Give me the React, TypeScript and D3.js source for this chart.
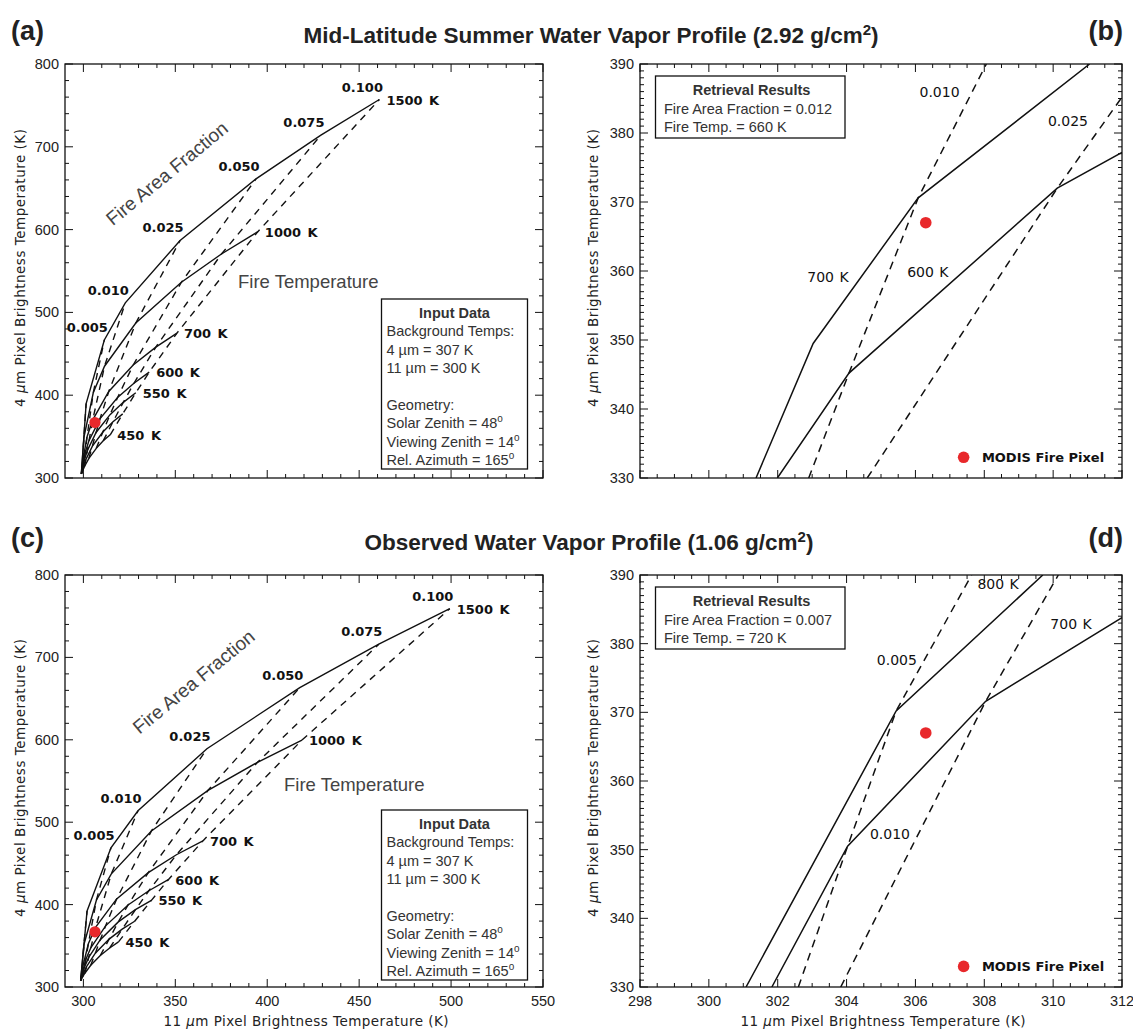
import React from "react";
import * as d3 from "d3";

type Pt = [number, number];

// Lookup grid: fire-area fractions (dashed curves) and fire temperatures (solid curves)
const FRACTIONS = [0.001, 0.005, 0.01, 0.025, 0.05, 0.075, 0.1];
const FRACTION_LABELS = ["", "0.005", "0.010", "0.025", "0.050", "0.075", "0.100"];
const FIRE_TEMPS = [450, 500, 550, 600, 700, 1000, 1500];
const FIRE_TEMP_LABELS = ["450 K", "", "550 K", "600 K", "700 K", "1000 K", "1500 K"];

// Pixel brightness temperatures [11 µm, 4 µm] in K. Rows follow FIRE_TEMPS,
// columns follow FRACTIONS. Mid-latitude summer profile (2.92 g/cm2).
const MLS_BACKGROUND: Pt = [298.9, 305.0];
const MLS_GRID: Pt[][] = [
  [[299.1, 306.0], [299.8, 309.8], [300.6, 313.9], [303.0, 323.8], [307.0, 335.8], [310.8, 344.9], [314.6, 352.2]],
  [[299.2, 307.3], [300.1, 315.0], [301.4, 322.5], [304.9, 338.5], [310.6, 355.6], [316.1, 367.9], [321.4, 377.4]],
  [[299.3, 309.3], [300.6, 322.1], [302.2, 333.4], [306.9, 355.0], [314.5, 376.5], [321.7, 391.4], [328.5, 402.9]],
  [[299.4, 312.0], [301.0, 330.8], [303.1, 345.5], [309.1, 371.8], [318.6, 397.2], [327.5, 414.4], [335.8, 427.8]],
  [[299.6, 319.8], [302.0, 349.9], [305.1, 370.3], [313.8, 404.5], [327.1, 436.5], [339.4, 458.1], [350.9, 475.0]],
  [[300.3, 349.2], [305.4, 403.2], [311.5, 435.0], [328.5, 487.1], [353.3, 536.4], [375.1, 570.5], [394.9, 597.5]],
  [[301.5, 389.9], [311.4, 466.7], [322.8, 511.5], [352.6, 586.9], [393.9, 661.2], [429.2, 714.1], [461.0, 757.1]],
];

// Observed water vapor profile (1.06 g/cm2)
const OBS_BACKGROUND: Pt = [298.5, 307.5];
const OBS_GRID: Pt[][] = [
  [[298.7, 308.5], [299.6, 312.2], [300.7, 316.4], [304.0, 326.3], [309.2, 338.2], [314.3, 347.4], [319.1, 354.7]],
  [[298.8, 309.8], [300.1, 317.5], [301.8, 325.0], [306.5, 341.0], [314.0, 358.1], [321.1, 370.3], [327.9, 379.8]],
  [[298.9, 311.8], [300.7, 324.6], [302.9, 335.9], [309.2, 357.4], [319.0, 379.0], [328.3, 393.8], [337.0, 405.2]],
  [[299.1, 314.5], [301.3, 333.3], [304.1, 347.9], [312.1, 374.2], [324.3, 399.6], [335.6, 416.8], [346.2, 430.2]],
  [[299.4, 322.3], [302.7, 352.4], [306.7, 372.7], [318.1, 406.9], [335.3, 438.8], [350.6, 460.5], [365.0, 477.3]],
  [[300.3, 351.6], [307.1, 405.6], [315.2, 437.3], [337.0, 489.4], [367.8, 538.7], [394.7, 572.7], [418.9, 599.7]],
  [[302.0, 392.3], [315.0, 469.0], [329.7, 513.8], [367.2, 589.1], [417.7, 663.3], [460.7, 716.1], [499.3, 759.1]],
];

// MODIS fire pixel [11 µm, 4 µm]
const MODIS_PIXEL: Pt = [306.3, 367.0];

// Close-up curves around the MODIS pixel
const MLS_CLOSE_SOLID: { name: string; points: Pt[] }[] = [
  { name: "700 K", points: [[301.37, 330], [303.03, 349.5], [306.08, 370.6], [311.06, 390]] },
  { name: "600 K", points: [[301.99, 330], [304.07, 345.2], [310.12, 372.0], [312.0, 377.2]] },
];
const MLS_CLOSE_DASHED: { name: string; points: Pt[] }[] = [
  { name: "0.010", points: [[302.9, 330], [304.07, 345.2], [306.08, 370.6], [308.06, 390]] },
  { name: "0.025", points: [[304.6, 330], [310.12, 372.0], [312.0, 385.2]] },
];
const OBS_CLOSE_SOLID: { name: string; points: Pt[] }[] = [
  { name: "800 K", points: [[301.08, 330], [305.44, 370.2], [309.7, 390]] },
  { name: "700 K", points: [[301.83, 330], [304.03, 350.5], [308.04, 371.6], [312.0, 383.8]] },
];
const OBS_CLOSE_DASHED: { name: string; points: Pt[] }[] = [
  { name: "0.005", points: [[302.6, 330], [304.03, 350.5], [305.44, 370.2], [307.63, 390]] },
  { name: "0.010", points: [[303.83, 330], [308.04, 371.6], [310.15, 390]] },
];

// Retrieval results shown in the close-up panels
const MLS_RESULT = { fraction: "0.012", temp: "660 K" };
const OBS_RESULT = { fraction: "0.007", temp: "720 K" };

// Axis ticks
const WIDE_X_TICKS = [300, 350, 400, 450, 500, 550];
const WIDE_X_MINOR = d3.range(300, 550, 10).filter((v) => v % 50 !== 0);
const WIDE_Y_TICKS = [300, 400, 500, 600, 700, 800];
const WIDE_Y_MINOR = d3.range(300, 800, 20).filter((v) => v % 100 !== 0);
const CLOSE_X_TICKS = [298, 300, 302, 304, 306, 308, 310, 312];
const CLOSE_X_MINOR = d3.range(298.5, 312, 0.5).filter((v) => v % 2 !== 0);
const CLOSE_Y_TICKS = [330, 340, 350, 360, 370, 380, 390];
const CLOSE_Y_MINOR = d3.range(331, 390, 1).filter((v) => v % 10 !== 0);

const SANS = "'Liberation Sans', Arial, Helvetica, sans-serif";
const VEC = "'DejaVu Sans', Verdana, sans-serif";
const INK = "#111";
const RED = "#e8282b";

type Scale = d3.ScaleLinear<number, number>;

function Axes(props: {
  x: Scale; y: Scale;
  xMajor: number[]; xMinor: number[]; yMajor: number[]; yMinor: number[];
  xLabels: boolean; xTitle?: boolean; yTitleX: number;
}) {
  const { x, y, xMajor, xMinor, yMajor, yMinor, xLabels, xTitle, yTitleX } = props;
  const [l, r] = x.range();
  const [b, t] = y.range();
  const MAJ = 8, MIN = 4;
  let d = "";
  xMajor.forEach((v) => { const p = x(v); d += `M${p},${b}v${-MAJ}M${p},${t}v${MAJ}`; });
  xMinor.forEach((v) => { const p = x(v); d += `M${p},${b}v${-MIN}M${p},${t}v${MIN}`; });
  yMajor.forEach((v) => { const p = y(v); d += `M${l},${p}h${MAJ}M${r},${p}h${-MAJ}`; });
  yMinor.forEach((v) => { const p = y(v); d += `M${l},${p}h${MIN}M${r},${p}h${-MIN}`; });
  const cy = (b + t) / 2 - 3;
  return (
    <g>
      <path d={d} stroke={INK} strokeWidth={1} fill="none" />
      <rect x={l} y={t} width={r - l} height={b - t} fill="none" stroke={INK} strokeWidth={1.3} />
      <g fontFamily={SANS} fontSize={14.5} fill="#222">
        {yMajor.map((v) => (
          <text key={v} x={l - 6} y={y(v) + 5} textAnchor="end">{v}</text>
        ))}
        {xLabels &&
          xMajor.map((v) => (
            <text key={v} x={x(v)} y={b + 19} textAnchor="middle">{v}</text>
          ))}
      </g>
      <text
        transform={`translate(${yTitleX},${cy}) rotate(-90)`}
        textAnchor="middle"
        fontFamily={VEC}
        fontSize={13.5}
        fill="#222"
        textLength={278}
        lengthAdjust="spacing"
      >
        4 <tspan fontStyle="italic">µ</tspan>m Pixel Brightness Temperature (K)
      </text>
      {xTitle && (
        <text
          x={(l + r) / 2 + 2}
          y={b + 39}
          textAnchor="middle"
          fontFamily={VEC}
          fontSize={13.5}
          fill="#222"
          textLength={285}
          lengthAdjust="spacing"
        >
          11 <tspan fontStyle="italic">µ</tspan>m Pixel Brightness Temperature (K)
        </text>
      )}
    </g>
  );
}

function InputBox({ left, top }: { left: number; top: number }) {
  const lines = [
    "Background Temps:",
    "4 µm = 307 K",
    "11 µm = 300 K",
    "",
    "Geometry:",
  ];
  const geo: [string, string][] = [
    ["Solar Zenith = 48", "o"],
    ["Viewing Zenith = 14", "o"],
    ["Rel. Azimuth = 165", "o"],
  ];
  const lh = 18.4;
  return (
    <g fontFamily={SANS} fontSize={14.5} fill="#333">
      <rect x={left} y={top} width={146} height={170} fill="#fff" stroke={INK} strokeWidth={1.3} />
      <text x={left + 73} y={top + 19} textAnchor="middle" fontWeight="bold">Input Data</text>
      {lines.map((s, i) => (
        <text key={i} x={left + 5} y={top + 19 + lh * (i + 1)}>{s}</text>
      ))}
      {geo.map(([s, sup], i) => (
        <text key={s} x={left + 5} y={top + 19 + lh * (i + 6)}>
          {s}
          <tspan dy={-6} fontSize={10}>{sup}</tspan>
        </text>
      ))}
    </g>
  );
}

function WidePanel(props: {
  top: number; bottom: number; grid: Pt[][]; background: Pt; xLabels: boolean;
}) {
  const { top, bottom, grid, background, xLabels } = props;
  const x = d3.scaleLinear().domain([290, 550]).range([65, 543]);
  const y = d3.scaleLinear().domain([300, 800]).range([bottom, top]);
  const line = d3.line<Pt>().x((d) => x(d[0])).y((d) => y(d[1]));
  const solid = grid.map((row) => [background, ...row]);
  const dashed = FRACTIONS.map((_, j) => grid.map((row) => row[j]));
  const hottest = grid[grid.length - 1];
  const toPx = (p: Pt) => [x(p[0]), y(p[1])];
  const fafAt = toPx(hottest[3]);
  return (
    <g>
      <g fill="none" stroke={INK} strokeWidth={1.4}>
        {solid.map((pts, i) => (
          <path key={`s${i}`} d={line(pts) || ""} />
        ))}
        {dashed.map((pts, j) => (
          <path key={`d${j}`} d={line(pts) || ""} strokeDasharray="7,6" />
        ))}
      </g>
      <g fontFamily={VEC} fontWeight="bold" fontSize={13} fill={INK}>
        {FRACTION_LABELS.map((s, j) => {
          if (!s) return null;
          const [px, py] = toPx(hottest[j]);
          return (
            <text key={s} x={px - 17} y={py - 8} textAnchor="middle">{s}</text>
          );
        })}
        {FIRE_TEMP_LABELS.map((s, i) => {
          if (!s) return null;
          const [px, py] = toPx(grid[i][grid[i].length - 1]);
          return (
            <text key={s} x={px + 7} y={py + 5} wordSpacing={2}>{s}</text>
          );
        })}
      </g>
      <text
        transform={`translate(${fafAt[0] - 9},${fafAt[1] - 62}) rotate(-39.4)`}
        textAnchor="middle"
        fontFamily={SANS}
        fontSize={19}
        fill="#444"
      >
        Fire Area Fraction
      </text>
      <circle cx={x(MODIS_PIXEL[0])} cy={y(MODIS_PIXEL[1])} r={5.6} fill={RED} />
      <Axes
        x={x} y={y}
        xMajor={WIDE_X_TICKS} xMinor={WIDE_X_MINOR}
        yMajor={WIDE_Y_TICKS} yMinor={WIDE_Y_MINOR}
        xLabels={xLabels} xTitle={xLabels} yTitleX={25}
      />
    </g>
  );
}

function ClosePanel(props: {
  id: string; top: number; bottom: number;
  solid: { name: string; points: Pt[] }[];
  dashed: { name: string; points: Pt[] }[];
  labels: { text: string; at: Pt }[];
  result: { fraction: string; temp: string };
  xLabels: boolean;
}) {
  const { id, top, bottom, solid, dashed, labels, result, xLabels } = props;
  const x = d3.scaleLinear().domain([298, 312]).range([640, 1122]);
  const y = d3.scaleLinear().domain([330, 390]).range([bottom, top]);
  const line = d3.line<Pt>().x((d) => x(d[0])).y((d) => y(d[1]));
  const bx = 655.5, by = top + 12;
  return (
    <g>
      <defs>
        <clipPath id={id}>
          <rect x={640} y={top} width={482} height={bottom - top} />
        </clipPath>
      </defs>
      <g clipPath={`url(#${id})`} fill="none" stroke={INK} strokeWidth={1.5}>
        {solid.map((c) => <path key={c.name} d={line(c.points) || ""} />)}
        {dashed.map((c) => (
          <path key={c.name} d={line(c.points) || ""} strokeDasharray="8,6" />
        ))}
      </g>
      <g fontFamily={VEC} fontSize={14} fill={INK}>
        {labels.map((l) => (
          <text key={l.text} x={x(l.at[0])} y={y(l.at[1]) + 5} textAnchor="middle" wordSpacing={1}>{l.text}</text>
        ))}
      </g>
      <circle cx={x(MODIS_PIXEL[0])} cy={y(MODIS_PIXEL[1])} r={5.8} fill={RED} />
      <circle cx={x(307.4)} cy={y(333.0)} r={5.8} fill={RED} />
      <text x={x(307.93)} y={y(333.0) + 5} fontFamily={VEC} fontWeight="bold" fontSize={13} fill={INK}>
        MODIS Fire Pixel
      </text>
      <g fontFamily={SANS} fontSize={14.5} fill="#333">
        <rect x={bx} y={by} width={189.5} height={62} fill="#fff" stroke={INK} strokeWidth={1.3} />
        <text x={bx + 96} y={by + 19} textAnchor="middle" fontWeight="bold">Retrieval Results</text>
        <text x={bx + 8.5} y={by + 37.5}>Fire Area Fraction = {result.fraction}</text>
        <text x={bx + 8.5} y={by + 55.5}>Fire Temp. = {result.temp}</text>
      </g>
      <Axes
        x={x} y={y}
        xMajor={CLOSE_X_TICKS} xMinor={CLOSE_X_MINOR}
        yMajor={CLOSE_Y_TICKS} yMinor={CLOSE_Y_MINOR}
        xLabels={xLabels} xTitle={xLabels} yTitleX={598}
      />
    </g>
  );
}

export default function App() {
  const mlsLabels = [
    { text: "0.010", at: [306.7, 385.9] as Pt },
    { text: "0.025", at: [310.43, 381.7] as Pt },
    { text: "700 K", at: [303.46, 359.1] as Pt },
    { text: "600 K", at: [306.36, 359.9] as Pt },
  ];
  const obsLabels = [
    { text: "800 K", at: [308.4, 388.7] as Pt },
    { text: "700 K", at: [310.52, 382.9] as Pt },
    { text: "0.005", at: [305.46, 377.6] as Pt },
    { text: "0.010", at: [305.26, 352.3] as Pt },
  ];
  return (
    <svg
      width={1133}
      height={1032}
      viewBox="0 0 1133 1032"
      style={{ position: "absolute", left: 0, top: 0, background: "#fff" }}
    >
      <rect width={1133} height={1032} fill="#fff" />
      <g fontFamily={SANS} fontWeight="bold" fill="#222">
        <text x={11} y={40} fontSize={27}>(a)</text>
        <text x={1123} y={40} fontSize={27} textAnchor="end">(b)</text>
        <text x={11} y={547} fontSize={27}>(c)</text>
        <text x={1123} y={547} fontSize={27} textAnchor="end">(d)</text>
        <text x={591} y={43} fontSize={22.5} textAnchor="middle">
          Mid-Latitude Summer Water Vapor Profile (2.92 g/cm<tspan dy={-8} fontSize={15}>2</tspan>
          <tspan dy={8}>)</tspan>
        </text>
        <text x={589} y={550} fontSize={22.5} textAnchor="middle">
          Observed Water Vapor Profile (1.06 g/cm<tspan dy={-8} fontSize={15}>2</tspan>
          <tspan dy={8}>)</tspan>
        </text>
      </g>

      <WidePanel top={64} bottom={478} grid={MLS_GRID} background={MLS_BACKGROUND} xLabels={false} />
      <text x={238} y={288} fontFamily={SANS} fontSize={18.5} fill="#444">Fire Temperature</text>
      <InputBox left={381.5} top={299} />

      <WidePanel top={575} bottom={987} grid={OBS_GRID} background={OBS_BACKGROUND} xLabels={true} />
      <text x={284} y={791} fontFamily={SANS} fontSize={18.5} fill="#444">Fire Temperature</text>
      <InputBox left={381.5} top={810} />

      <ClosePanel
        id="clipB" top={64} bottom={478}
        solid={MLS_CLOSE_SOLID} dashed={MLS_CLOSE_DASHED}
        labels={mlsLabels} result={MLS_RESULT} xLabels={false}
      />
      <ClosePanel
        id="clipD" top={575} bottom={987}
        solid={OBS_CLOSE_SOLID} dashed={OBS_CLOSE_DASHED}
        labels={obsLabels} result={OBS_RESULT} xLabels={true}
      />
    </svg>
  );
}
